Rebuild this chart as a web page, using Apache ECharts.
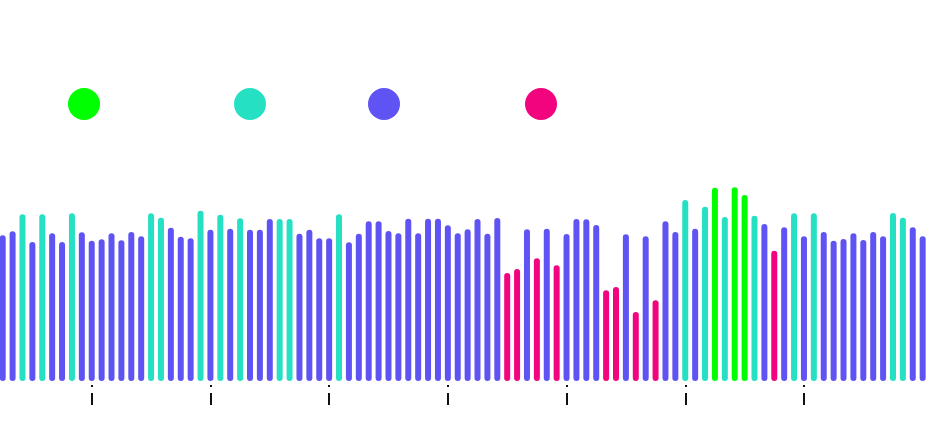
<!DOCTYPE html>
<html>
<head>
<meta charset="utf-8">
<script src="https://cdn.jsdelivr.net/npm/echarts@6/dist/echarts.min.js"></script>
<style>html,body{margin:0;padding:0;background:#fff;}#c{width:951px;height:430px;}</style>
</head>
<body>
<div id="c"></div>
<script>
// Bar values
var values = [
  145.7,149.7,166.7,139,166.7,147.7,139,167.7,148.7,140.3,
  141.7,147.7,140.7,149,144.7,167.7,163.3,153.3,144.3,142.7,
  170.3,151.3,166.3,152.3,162.7,151.3,151.3,162,162,162,
  147.3,151.3,142.7,142.7,166.7,138.7,147.3,159.7,159.7,150,
  147.7,162.3,147.7,162.3,162.3,155.7,147.7,151.7,162,147.3,
  163,108,112,151.7,122.7,152.3,115.7,147,162,161.7,
  156,90.7,94,146.7,69,144.7,80.7,159.7,149,181,
  152.3,174.3,193.3,164,193.7,186,165.3,157,130.3,153.7,
  167.7,144.7,167.7,149,140.3,142,147.7,141,149,144.7,
  168,163.3,153.7,144.7
];
// Group of each bar: P = peak (green), H = high (teal), N = normal (purple), L = low (pink)
var groups = [
  'N','N','H','N','H','N','N','H','N','N',
  'N','N','N','N','N','H','H','N','N','N',
  'H','N','H','N','H','N','N','N','H','H',
  'N','N','N','N','H','N','N','N','N','N',
  'N','N','N','N','N','N','N','N','N','N',
  'N','L','L','N','L','N','L','N','N','N',
  'N','L','L','N','L','N','L','N','N','H',
  'N','H','P','H','P','P','H','N','L','N',
  'H','N','H','N','N','N','N','N','N','N',
  'H','H','N','N'
];
// Positions (bar index) of the axis ticks
var tickPositions = [9, 21, 33, 45, 57, 69, 81];
var groupCodes = ['P','H','N','L'];
var seriesNames = ['Peak','High','Normal','Low'];
var seriesColors = ['#00ff00','#25e0c3','#5f54f3','#f2047f'];

var X_MIN = -0.273, X_MAX = 95.865;

var series = groupCodes.map(function(code, g){
  var d = [];
  values.forEach(function(v, i){ if (groups[i] === code) d.push([i, v]); });
  return {
    name: seriesNames[g],
    type: 'bar',
    xAxisIndex: 0,
    yAxisIndex: 0,
    barWidth: 6,
    barGap: '-100%',
    itemStyle: { color: seriesColors[g], borderRadius: 3 },
    data: d
  };
});

var legendLefts = [68, 234, 368, 525];
var legends = seriesNames.map(function(n, g){
  return {
    data: [n],
    left: legendLefts[g],
    top: 88,
    padding: 0,
    icon: 'circle',
    itemWidth: 32,
    itemHeight: 32,
    selectedMode: false,
    formatter: function(){ return ''; }
  };
});

function xAx(gridIndex, tickLen){
  return {
    type: 'value',
    gridIndex: gridIndex,
    min: X_MIN,
    max: X_MAX,
    axisLine: { show: false },
    axisLabel: { show: false },
    splitLine: { show: false },
    axisTick: {
      show: tickLen > 0,
      customValues: tickPositions,
      length: tickLen,
      lineStyle: { color: '#111', width: 2 }
    }
  };
}
function yAx(gridIndex){
  return { type: 'value', gridIndex: gridIndex, min: 0, max: 250, show: false };
}

var chart = echarts.init(document.getElementById('c'));
chart.setOption({
  animation: false,
  backgroundColor: '#fff',
  legend: legends,
  grid: [
    { left: 0, right: 0, top: 131, bottom: 49, containLabel: false },
    { left: 0, right: 0, top: 131, bottom: 45, containLabel: false },
    { left: 0, right: 0, top: 131, bottom: 37, containLabel: false }
  ],
  xAxis: [xAx(0, 0), xAx(1, 2), xAx(2, 12)],
  yAxis: [yAx(0), yAx(1), yAx(2)],
  series: series
});
</script>
</body>
</html>
